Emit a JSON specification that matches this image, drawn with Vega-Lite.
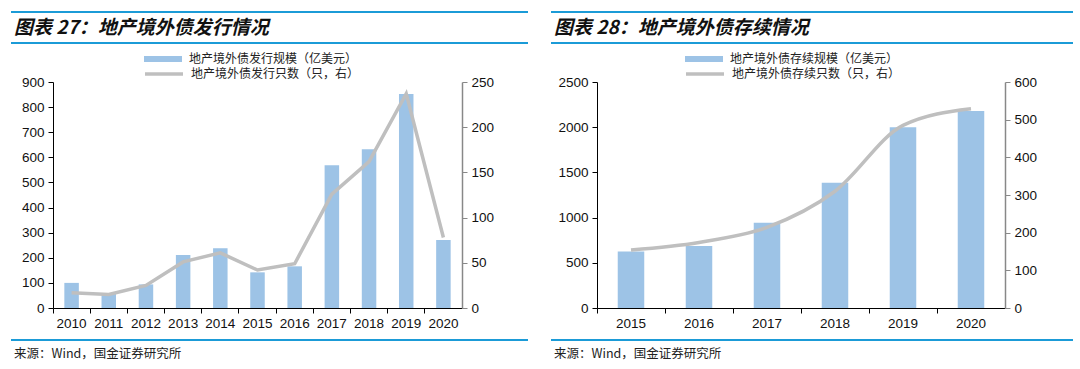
{
  "$schema": "https://vega.github.io/schema/vega-lite/v6.json",
  "padding": {"left": 10, "top": 11, "right": 0, "bottom": 0},
  "background": "white",
  "config": {
    "view": {"stroke": null},
    "font": "Liberation Sans",
    "axis": {"labelFont": "Liberation Sans", "labelFontSize": 13.5, "labelColor": "#111", "domainColor": "#000", "tickColor": "#000", "grid": false, "tickSize": 5, "labelPadding": 4, "format": "d"},
    "legend": {"labelFont": "Noto Sans CJK SC", "labelFontSize": 12, "labelColor": "#222", "labelOffset": 20, "labelLimit": 0}
  },
  "spacing": 21,
  "hconcat": [
    {
      "concat": [
        {
          "width": 475, "height": 31,
          "data": {"values": [{"t": "图表 27：地产境外债发行情况"}]},
          "layer": [
            {"mark": {"type": "rule", "color": "#1b9bd7", "strokeWidth": 2}, "encoding": {"x": {"datum": 0, "type": "quantitative", "scale": {"domain": [0, 1], "range": [-42, 475], "nice": false}, "axis": null}, "x2": {"datum": 1}, "y": {"datum": 0, "type": "quantitative", "scale": {"domain": [0, 1], "nice": false}, "axis": null}}},
            {"mark": {"type": "rule", "color": "#1b9bd7", "strokeWidth": 2}, "encoding": {"x": {"datum": 0, "type": "quantitative"}, "x2": {"datum": 1}, "y": {"datum": 1, "type": "quantitative"}}},
            {"mark": {"type": "text", "align": "left", "baseline": "middle", "dx": 3, "font": "Noto Sans CJK SC", "fontSize": 19, "fontWeight": "bold", "fontStyle": "italic", "color": "#111"},
             "encoding": {"x": {"datum": 0, "type": "quantitative"}, "y": {"datum": 0.5, "type": "quantitative"}, "text": {"field": "t"}}}
          ]
        },
        {
          "width": 409, "height": 226,
          "data": {"values": [
            {"year": "2010", "amount": 100, "count": 17},
            {"year": "2011", "amount": 58, "count": 15},
            {"year": "2012", "amount": 94, "count": 25},
            {"year": "2013", "amount": 211, "count": 51},
            {"year": "2014", "amount": 238, "count": 61},
            {"year": "2015", "amount": 142, "count": 42},
            {"year": "2016", "amount": 166, "count": 49},
            {"year": "2017", "amount": 568, "count": 126},
            {"year": "2018", "amount": 632, "count": 162},
            {"year": "2019", "amount": 852, "count": 237},
            {"year": "2020", "amount": 271, "count": 78}
          ]},
          "layer": [
            {
              "mark": {"type": "bar", "width": {"band": 0.39}},
              "encoding": {
                "x": {"field": "year", "type": "ordinal", "title": null, "scale": {"paddingInner": 0, "paddingOuter": 0}, "axis": {"labelAngle": 0, "bandPosition": 0, "labelPadding": 3}},
                "y": {"field": "amount", "type": "quantitative", "title": null, "scale": {"domain": [0, 900], "nice": false}, "axis": {"values": [0, 100, 200, 300, 400, 500, 600, 700, 800, 900], "minExtent": 42}},
                "fill": {"datum": "地产境外债发行规模（亿美元）", "scale": {"range": ["#9dc3e6"]}, "legend": {"orient": "none", "legendX": 104, "legendY": -29, "title": null, "symbolType": "M-3.8,-0.6H3.8V0.6H-3.8Z", "symbolSize": 100, "symbolStrokeWidth": 0}}
              }
            },
            {
              "mark": {"type": "line", "strokeWidth": 3.5},
              "encoding": {
                "x": {"field": "year", "type": "ordinal"},
                "y": {"field": "count", "type": "quantitative", "title": null, "scale": {"domain": [0, 250], "nice": false}, "axis": {"orient": "right", "values": [0, 50, 100, 150, 200, 250], "domainColor": "#888", "domainWidth": 1.5, "tickColor": "#888"}},
                "stroke": {"datum": "地产境外债发行只数（只，右）", "scale": {"range": ["#bfbfbf"]}, "legend": {"orient": "none", "legendX": 104, "legendY": -15, "title": null, "symbolType": "M-3.8,0H3.8", "symbolSize": 100, "symbolStrokeWidth": 3.5}}
              }
            }
          ],
          "resolve": {"scale": {"y": "independent"}}
        },
        {
          "width": 475, "height": 28,
          "data": {"values": [{"t": "来源：Wind，国金证券研究所"}]},
          "layer": [
            {"mark": {"type": "rule", "color": "#1b9bd7", "strokeWidth": 2}, "encoding": {"x": {"datum": 0, "type": "quantitative", "scale": {"domain": [0, 1], "range": [-42, 475], "nice": false}, "axis": null}, "x2": {"datum": 1}, "y": {"datum": 1, "type": "quantitative", "scale": {"domain": [0, 1], "nice": false}, "axis": null}}},
            {"mark": {"type": "text", "align": "left", "baseline": "middle", "dx": 3, "font": "Noto Sans CJK SC", "fontSize": 12.5, "color": "#222"},
             "encoding": {"x": {"datum": 0, "type": "quantitative"}, "y": {"datum": 0.5, "type": "quantitative"}, "text": {"field": "t"}}}
          ]
        }
      ],
      "columns": 1,
      "spacing": 9,
      "resolve": {"scale": {"fill": "independent", "stroke": "independent"}, "legend": {"fill": "independent", "stroke": "independent"}}
    },
    {
      "concat": [
        {
          "width": 476, "height": 31,
          "data": {"values": [{"t": "图表 28：地产境外债存续情况"}]},
          "layer": [
            {"mark": {"type": "rule", "color": "#1b9bd7", "strokeWidth": 2}, "encoding": {"x": {"datum": 0, "type": "quantitative", "scale": {"domain": [0, 1], "range": [-46, 476], "nice": false}, "axis": null}, "x2": {"datum": 1}, "y": {"datum": 0, "type": "quantitative", "scale": {"domain": [0, 1], "nice": false}, "axis": null}}},
            {"mark": {"type": "rule", "color": "#1b9bd7", "strokeWidth": 2}, "encoding": {"x": {"datum": 0, "type": "quantitative"}, "x2": {"datum": 1}, "y": {"datum": 1, "type": "quantitative"}}},
            {"mark": {"type": "text", "align": "left", "baseline": "middle", "dx": 3, "font": "Noto Sans CJK SC", "fontSize": 19, "fontWeight": "bold", "fontStyle": "italic", "color": "#111"},
             "encoding": {"x": {"datum": 0, "type": "quantitative"}, "y": {"datum": 0.5, "type": "quantitative"}, "text": {"field": "t"}}}
          ]
        },
        {
          "width": 408, "height": 226,
          "data": {"values": [
            {"year": "2015", "amount": 624, "count": 154},
            {"year": "2016", "amount": 687, "count": 174},
            {"year": "2017", "amount": 944, "count": 214},
            {"year": "2018", "amount": 1386, "count": 310},
            {"year": "2019", "amount": 2000, "count": 485},
            {"year": "2020", "amount": 2180, "count": 529}
          ]},
          "layer": [
            {
              "mark": {"type": "bar", "width": {"band": 0.39}},
              "encoding": {
                "x": {"field": "year", "type": "ordinal", "title": null, "scale": {"paddingInner": 0, "paddingOuter": 0}, "axis": {"labelAngle": 0, "bandPosition": 0, "labelPadding": 3}},
                "y": {"field": "amount", "type": "quantitative", "title": null, "scale": {"domain": [0, 2500], "nice": false}, "axis": {"values": [0, 500, 1000, 1500, 2000, 2500], "minExtent": 46}},
                "fill": {"datum": "地产境外债存续规模（亿美元）", "scale": {"range": ["#9dc3e6"]}, "legend": {"orient": "none", "legendX": 101, "legendY": -29, "title": null, "symbolType": "M-3.8,-0.6H3.8V0.6H-3.8Z", "symbolSize": 100, "symbolStrokeWidth": 0}}
              }
            },
            {
              "mark": {"type": "line", "strokeWidth": 3.5, "interpolate": "monotone"},
              "encoding": {
                "x": {"field": "year", "type": "ordinal"},
                "y": {"field": "count", "type": "quantitative", "title": null, "scale": {"domain": [0, 600], "nice": false}, "axis": {"orient": "right", "values": [0, 100, 200, 300, 400, 500, 600], "domainColor": "#888", "domainWidth": 1.5, "tickColor": "#888"}},
                "stroke": {"datum": "地产境外债存续只数（只，右）", "scale": {"range": ["#bfbfbf"]}, "legend": {"orient": "none", "legendX": 101, "legendY": -15, "title": null, "symbolType": "M-3.8,0H3.8", "symbolSize": 100, "symbolStrokeWidth": 3.5}}
              }
            }
          ],
          "resolve": {"scale": {"y": "independent"}}
        },
        {
          "width": 476, "height": 28,
          "data": {"values": [{"t": "来源：Wind，国金证券研究所"}]},
          "layer": [
            {"mark": {"type": "rule", "color": "#1b9bd7", "strokeWidth": 2}, "encoding": {"x": {"datum": 0, "type": "quantitative", "scale": {"domain": [0, 1], "range": [-46, 476], "nice": false}, "axis": null}, "x2": {"datum": 1}, "y": {"datum": 1, "type": "quantitative", "scale": {"domain": [0, 1], "nice": false}, "axis": null}}},
            {"mark": {"type": "text", "align": "left", "baseline": "middle", "dx": 3, "font": "Noto Sans CJK SC", "fontSize": 12.5, "color": "#222"},
             "encoding": {"x": {"datum": 0, "type": "quantitative"}, "y": {"datum": 0.5, "type": "quantitative"}, "text": {"field": "t"}}}
          ]
        }
      ],
      "columns": 1,
      "spacing": 9,
      "resolve": {"scale": {"fill": "independent", "stroke": "independent"}, "legend": {"fill": "independent", "stroke": "independent"}}
    }
  ],
  "resolve": {"scale": {"fill": "independent", "stroke": "independent"}}
}
